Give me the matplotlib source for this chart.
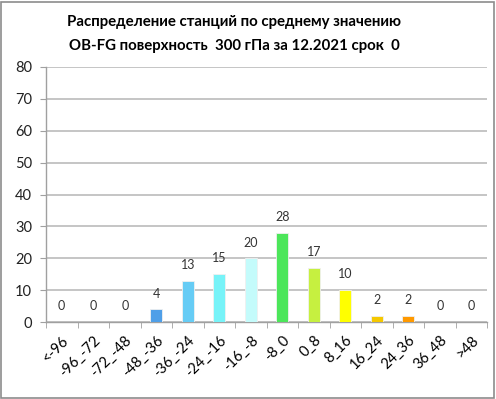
import numpy as np
import matplotlib.pyplot as plt
from matplotlib.patches import Rectangle

plt.rcParams['font.family'] = ['Lato', 'DejaVu Sans']

categories = ['<-96', '-96_-72', '-72_-48', '-48_-36', '-36_-24', '-24_-16', '-16_-8',
              '-8_0', '0_8', '8_16', '16_24', '24_36', '36_48', '>48']
counts = [0, 0, 0, 4, 13, 15, 20, 28, 17, 10, 2, 2, 0, 0]
colors = ['#4f9fe8', '#4f9fe8', '#4f9fe8', '#4f9fe8', '#66ccf5', '#77f3f8', '#c4fbfb',
          '#4ce65a', '#c6f040', '#ffff00', '#f5c800', '#ff9900', '#ff9900', '#ff9900']

fig = plt.figure(figsize=(4.96, 3.99), dpi=100)
ax = fig.add_axes([46 / 496, 1 - 322 / 399, 441 / 496, 255 / 399])

x = np.arange(len(categories))
ax.bar(x, counts, width=0.38, color=colors, edgecolor='#f0f0f0', linewidth=0.6, zorder=3)
for xi, c in zip(x, counts):
    ax.annotate(str(c), (xi, c), xytext=(0, 7), textcoords='offset points',
                ha='center', va='bottom', fontsize=9, color='#333333')

ax.set_xlim(-0.5, len(categories) - 0.5)
ax.set_ylim(0, 80)
ax.set_yticks(range(0, 81, 10))
ax.yaxis.grid(True, color='#c0c0c0', linewidth=1.3, zorder=0)
ax.set_axisbelow(True)

ax.set_xticks(x)
ax.set_xticklabels(categories, rotation=45, ha='right', rotation_mode='anchor', fontsize=10.5)
ax.set_xticks(np.arange(-0.5, len(categories)), minor=True)
ax.tick_params(axis='x', which='major', length=0, pad=8)
ax.tick_params(axis='x', which='minor', length=4, color='#a0a0a0', direction='out')
ax.tick_params(axis='y', length=4, color='#a0a0a0', labelsize=10.5, pad=6, labelcolor='#222222')

for s in ['top', 'right']:
    ax.spines[s].set_visible(False)
for s in ['left', 'bottom']:
    ax.spines[s].set_color('#a0a0a0')
    ax.spines[s].set_linewidth(1.0)

fig.text(234 / 496, 1 - 22 / 399, 'Распределение станций по среднему значению',
         ha='center', va='center', fontsize=10.8, fontweight='bold')
fig.text(234 / 496, 1 - 46 / 399, 'OB-FG поверхность  300 гПа за 12.2021 срок  0',
         ha='center', va='center', fontsize=10.8, fontweight='bold')

fig.patches.append(Rectangle((0.002, 0.002), 0.994, 0.994, transform=fig.transFigure,
                             fill=False, edgecolor='#8c8c8c', linewidth=1.2))

fig.savefig('out.png', dpi=100)
